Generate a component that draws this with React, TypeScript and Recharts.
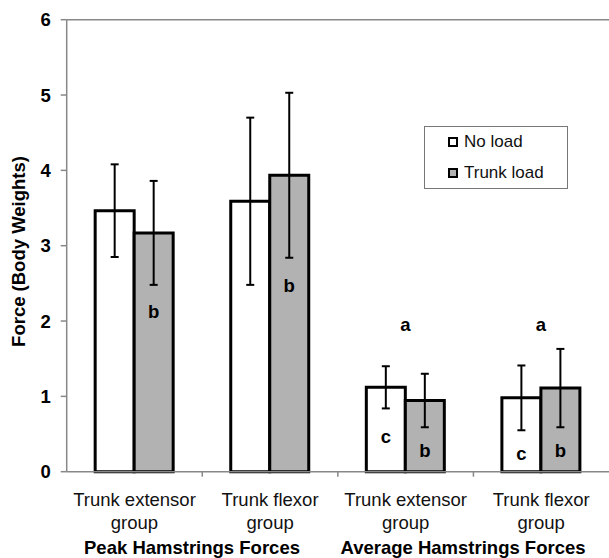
import { BarChart, Bar, XAxis, YAxis, ErrorBar, ReferenceLine, Legend, Rectangle } from "recharts";

const categories = ["Peak extensor", "Peak flexor", "Average extensor", "Average flexor"];
const tickLines = [
  ["Trunk extensor", "group"],
  ["Trunk flexor", "group"],
  ["Trunk extensor", "group"],
  ["Trunk flexor", "group"],
];
const noLoad = [3.465, 3.59, 1.12, 0.98];
const noLoadErr = [0.615, 1.11, 0.28, 0.43];
const trunkLoad = [3.17, 3.935, 0.945, 1.11];
const trunkLoadErr = [0.69, 1.095, 0.355, 0.52];
const yTicks = [0, 1, 2, 3, 4, 5, 6];

// significance letters and the value (baseline) where each sits
const noLoadLetters = ["", "", "c", "c"];
const noLoadLetterPos = [0, 0, 0.38, 0.16];
const aboveLetters = ["", "", "a", "a"];
const aboveLetterPos = [0, 0, 1.87, 1.87];
const trunkLoadLetters = ["b", "b", "b", "b"];
const trunkLoadLetterPos = [2.04, 2.38, 0.2, 0.2];

const data = categories.map((name, i) => ({
  name,
  noLoad: noLoad[i],
  noLoadErr: noLoadErr[i],
  trunkLoad: trunkLoad[i],
  trunkLoadErr: trunkLoadErr[i],
}));

const FONT = "'Liberation Sans', Arial, sans-serif";
const AXIS = "#888888";
const GRAY = "#b2b2b2";

const letterStyle = { fontFamily: FONT, fontSize: 18.5, fontWeight: 700, fill: "#000" };

function makeShape(key: string, letters: string[], pos: number[], above?: string[], abovePos?: number[]) {
  return (props: any) => {
    const { x, y, width, height, index, payload } = props;
    const value = payload[key];
    const perUnit = value ? height / value : 0;
    const bottom = y + height;
    return (
      <g>
        <Rectangle x={x} y={y} width={width} height={height} fill={props.fill} stroke="#000" strokeWidth={3} />
        {letters[index] && (
          <text x={x + width / 2} y={bottom - pos[index] * perUnit} textAnchor="middle" style={letterStyle}>
            {letters[index]}
          </text>
        )}
        {above && above[index] && abovePos && (
          <text x={x + width} y={bottom - abovePos[index] * perUnit} textAnchor="middle" style={letterStyle}>
            {above[index]}
          </text>
        )}
      </g>
    );
  };
}

function CategoryTick(props: any) {
  const { x, y, payload, index } = props;
  const half = payload?.offset ?? 67.8;
  const lines = tickLines[index] || [];
  return (
    <g>
      {index > 0 && <line x1={x - half} x2={x - half} y1={y} y2={y + 5} stroke={AXIS} strokeWidth={1.5} />}
      <text x={x} y={y + 34.3} textAnchor="middle" style={{ fontFamily: FONT, fontSize: 18.5, fill: "#111" }}>
        {lines[0]}
      </text>
      <text x={x} y={y + 57} textAnchor="middle" style={{ fontFamily: FONT, fontSize: 18.5, fill: "#111" }}>
        {lines[1]}
      </text>
    </g>
  );
}

function LegendBox() {
  const items = [
    { label: "No load", fill: "#fff" },
    { label: "Trunk load", fill: GRAY },
  ];
  return (
    <div
      style={{
        width: 144,
        height: 63,
        boxSizing: "border-box",
        border: "1px solid #777",
        background: "#fff",
        fontFamily: FONT,
        fontSize: 17,
        color: "#111",
      }}
    >
      {items.map((it) => (
        <div key={it.label} style={{ display: "flex", alignItems: "center", height: 30.5, paddingLeft: 23 }}>
          <span
            style={{
              display: "inline-block",
              width: 10,
              height: 10,
              boxSizing: "border-box",
              border: "2.5px solid #000",
              background: it.fill,
              marginRight: 6,
            }}
          />
          <span>{it.label}</span>
        </div>
      ))}
    </div>
  );
}

export default function App() {
  return (
    <div style={{ position: "absolute", left: 0, top: 0, width: 609, height: 558, background: "#fff" }}>
      <BarChart
        width={609}
        height={558}
        data={data}
        margin={{ top: 19.7, right: 0, left: 0, bottom: 0 }}
        barGap={0}
        barCategoryGap="21%"
      >
        <XAxis
          dataKey="name"
          height={86.3}
          stroke={AXIS}
          strokeWidth={1.5}
          tickLine={false}
          tickSize={0}
          tickMargin={0}
          interval={0}
          tick={<CategoryTick />}
        />
        <YAxis
          width={66.7}
          domain={[0, 6]}
          ticks={yTicks}
          stroke={AXIS}
          strokeWidth={1.5}
          tickSize={6}
          tickMargin={10}
          tick={{ fontFamily: FONT, fontSize: 18.5, fontWeight: 700, fill: "#000" }}
        />
        <ReferenceLine y={6} stroke={AXIS} strokeWidth={1.5} />
        <Legend
          layout="vertical"
          align="center"
          verticalAlign="middle"
          content={() => <LegendBox />}
          wrapperStyle={{ left: 424, top: 126, width: 144, height: 63 }}
        />
        <Bar
          dataKey="noLoad"
          name="No load"
          fill="#fff"
          isAnimationActive={false}
          shape={makeShape("noLoad", noLoadLetters, noLoadLetterPos, aboveLetters, aboveLetterPos)}
        >
          <ErrorBar dataKey="noLoadErr" width={4} stroke="#000" strokeWidth={2} direction="y" isAnimationActive={false} />
        </Bar>
        <Bar
          dataKey="trunkLoad"
          name="Trunk load"
          fill={GRAY}
          isAnimationActive={false}
          shape={makeShape("trunkLoad", trunkLoadLetters, trunkLoadLetterPos)}
        >
          <ErrorBar dataKey="trunkLoadErr" width={4} stroke="#000" strokeWidth={2} direction="y" isAnimationActive={false} />
        </Bar>
        <text
          x={24.5}
          y={251.5}
          transform="rotate(-90, 24.5, 251.5)"
          textAnchor="middle"
          style={{ fontFamily: FONT, fontSize: 18.5, fontWeight: 700, fill: "#000" }}
        >
          Force (Body Weights)
        </text>
        <text x={192} y={553.5} textAnchor="middle" style={{ fontFamily: FONT, fontSize: 18.5, fontWeight: 700, fill: "#000" }}>
          Peak Hamstrings Forces
        </text>
        <text x={463} y={553.5} textAnchor="middle" style={{ fontFamily: FONT, fontSize: 18.5, fontWeight: 700, fill: "#000" }}>
          Average Hamstrings Forces
        </text>
      </BarChart>
    </div>
  );
}
